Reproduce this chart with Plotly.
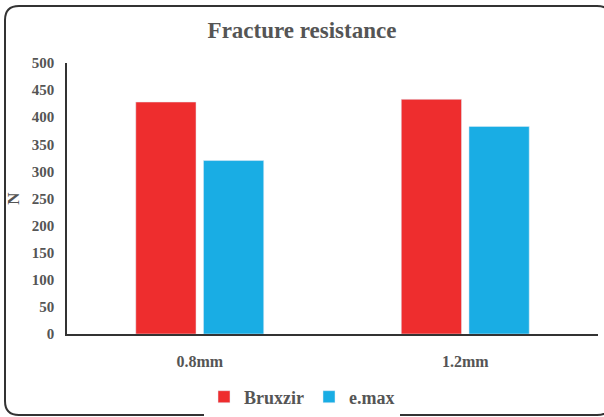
import plotly.graph_objects as go

categories = ["0.8mm", "1.2mm"]
bruxzir = [428, 433]
emax = [320, 383]
y_ticks = [0, 50, 100, 150, 200, 250, 300, 350, 400, 450, 500]

W, H = 604, 417
ML, MR, MT, MB = 67, 6, 63, 83
PW, PH = W - ML - MR, H - MT - MB

def px(x):
    return (x - ML) / PW

def py(y):
    return 1 - (y - MT) / PH

FONT = "Liberation Serif"
GRAY = "#555555"

fig = go.Figure()
fig.add_trace(go.Bar(name="Bruxzir", x=categories, y=bruxzir, marker_color="#EE2D2E"))
fig.add_trace(go.Bar(name="e.max", x=categories, y=emax, marker_color="#19ADE4"))

# rounded frame
x0, y0, x1, y1, r = 5, 6, 611, 415, 14
path = (f"M {px(x0 + r)},{py(y0)} L {px(x1 - r)},{py(y0)} "
        f"Q {px(x1)},{py(y0)} {px(x1)},{py(y0 + r)} L {px(x1)},{py(y1 - r)} "
        f"Q {px(x1)},{py(y1)} {px(x1 - r)},{py(y1)} L {px(x0 + r)},{py(y1)} "
        f"Q {px(x0)},{py(y1)} {px(x0)},{py(y1 - r)} L {px(x0)},{py(y0 + r)} "
        f"Q {px(x0)},{py(y0)} {px(x0 + r)},{py(y0)} Z")

def f(size):
    return dict(family=FONT, size=size, color=GRAY, weight="bold")

fig.update_layout(
    width=W, height=H,
    margin=dict(l=ML, r=MR, t=MT, b=MB),
    paper_bgcolor="white", plot_bgcolor="white",
    barmode="group", bargap=0.49, bargroupgap=0.11,
    title=dict(text="Fracture resistance", x=0.5, xref="container", xanchor="center",
               y=1 - 30 / H, yanchor="middle", yref="container", font=f(23)),
    showlegend=True,
    legend=dict(orientation="h", x=0.5, xref="container", xanchor="center",
                y=1 - 397 / H, yref="container", yanchor="middle",
                font=f(18), itemwidth=30, traceorder="normal"),
    shapes=[dict(type="path", path=path, xref="paper", yref="paper",
                 line=dict(color="#333333", width=2), fillcolor="rgba(0,0,0,0)", layer="below")],
)
fig.update_yaxes(range=[0, 500], tickvals=y_ticks, showgrid=False, zeroline=False,
                 showline=True, linecolor="#333333", linewidth=1.5,
                 ticks="", ticklabelstandoff=8, tickfont=f(15),
                 title=dict(text="N", standoff=8, font=f(17)))
fig.update_xaxes(showgrid=False, showline=True, linecolor="#333333", linewidth=1.5,
                 ticks="", ticklabelstandoff=12, tickfont=f(16))

fig.write_html("out.html", config={"displayModeBar": False},
               post_script="document.body.style.margin='0';")
